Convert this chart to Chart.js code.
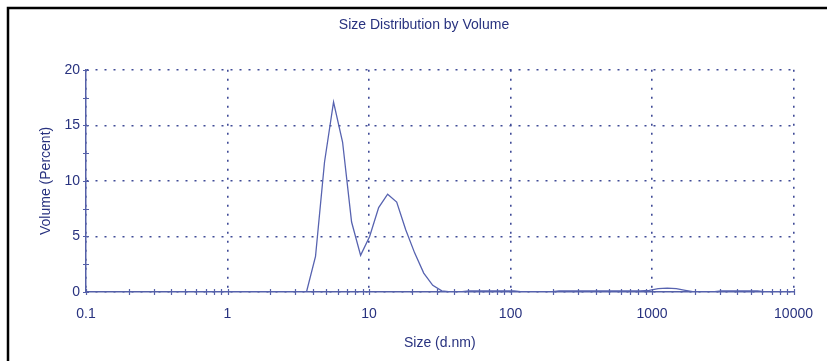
<!DOCTYPE html>
<html>
<head>
<meta charset="utf-8">
<script src="https://cdn.jsdelivr.net/npm/chart.js@4.4.1/dist/chart.umd.min.js"></script>
<style>
body { margin: 0; background: #fff; }
</style>
</head>
<body>
<canvas id="dist" width="827" height="361"></canvas>
<script>
// size classes (d.nm) and the volume in each (%)
var sizes = [0.4, 0.4632, 0.5365, 0.6213, 0.7195, 0.8332, 0.9649, 1.117, 1.294, 1.499,
	1.736, 2.01, 2.328, 2.696, 3.122, 3.615, 4.187, 4.849, 5.615, 6.503,
	7.531, 8.721, 10.1, 11.7, 13.54, 15.69, 18.17, 21.04, 24.36, 28.21,
	32.67, 37.84, 43.82, 50.75, 58.77, 68.06, 78.82, 91.28, 105.7, 122.4,
	141.8, 164.2, 190.1, 220.2, 255, 295.3, 342, 396.1, 458.7, 531.2,
	615.1, 712.4, 825, 955.4, 1106, 1281, 1484, 1718, 1990, 2305,
	2669, 3091, 3580, 4145, 4801, 5560, 6439, 7456, 8635, 10000];
var volumes = [0, 0, 0, 0, 0, 0, 0, 0, 0, 0,
	0, 0, 0, 0, 0, 0, 3.2, 11.7, 17.1, 13.5,
	6.3, 3.3, 5.0, 7.6, 8.8, 8.1, 5.6, 3.5, 1.7, 0.6,
	0.1, 0, 0, 0.1, 0.1, 0.1, 0.1, 0.1, 0.1, 0,
	0, 0, 0, 0.1, 0.1, 0.1, 0.1, 0.1, 0.1, 0.1,
	0.1, 0.1, 0.1, 0.15, 0.3, 0.35, 0.3, 0.15, 0, 0,
	0, 0.1, 0.1, 0.1, 0.1, 0.1, 0, 0, 0, 0];
var xTicks = [0.1, 1, 10, 100, 1000, 10000];
var yTicks = [0, 5, 10, 15, 20];

var navy = '#28327f';
var axisColor = '#5560a8';
var lineColor = '#5763b0';
var gridColor = '#3f4a96';

Chart.defaults.font.family = "'Liberation Sans', Arial, sans-serif";

// minor ticks 2..9 in each decade
var xAll = [];
for (var i = 0; i < xTicks.length - 1; i++) {
	for (var m = 1; m < 10; m++) {
		xAll.push(parseFloat((m * xTicks[i]).toPrecision(6)));
	}
}
xAll.push(xTicks[xTicks.length - 1]);
var yAll = [];
for (var v = 0; v <= 20; v += 2.5) yAll.push(v);

var points = sizes.map(function(s, i) { return {x: s, y: volumes[i]}; });

var framePlugin = {
	id: 'frame',
	beforeDraw: function(chart) {
		var ctx = chart.ctx;
		ctx.save();
		ctx.strokeStyle = '#000';
		ctx.lineWidth = 2.5;
		ctx.beginPath();
		ctx.moveTo(8, 361);
		ctx.lineTo(8, 8);
		ctx.lineTo(827, 8);
		ctx.stroke();
		ctx.restore();
	}
};

// small tick marks crossing both axes
var tickPlugin = {
	id: 'crossTicks',
	afterDraw: function(chart) {
		var ctx = chart.ctx;
		var xs = chart.scales.x, ys = chart.scales.y;
		var x0 = xs.getPixelForValue(0.1), y0 = ys.getPixelForValue(0);
		ctx.save();
		ctx.strokeStyle = axisColor;
		ctx.lineWidth = 1.2;
		ctx.beginPath();
		xAll.forEach(function(v) {
			var px = Math.round(xs.getPixelForValue(v)) + 0.5;
			ctx.moveTo(px, y0 - 3);
			ctx.lineTo(px, y0 + 3);
		});
		yAll.forEach(function(v) {
			var py = Math.round(ys.getPixelForValue(v)) + 0.5;
			ctx.moveTo(x0 - 3, py);
			ctx.lineTo(x0 + 3, py);
		});
		ctx.stroke();
		ctx.restore();
	}
};

new Chart(document.getElementById('dist'), {
	type: 'line',
	data: {
		datasets: [{
			data: points,
			borderColor: lineColor,
			borderWidth: 1.3,
			pointRadius: 0,
			tension: 0,
			fill: false
		}]
	},
	options: {
		responsive: false,
		animation: false,
		layout: { padding: { left: 50, right: 29, top: 0, bottom: 0 } },
		plugins: {
			legend: { display: false },
			tooltip: { enabled: false },
			title: {
				display: true,
				text: 'Size Distribution by Volume',
				color: navy,
				font: { size: 14, weight: 'normal' },
				padding: { top: 17, bottom: 36 }
			}
		},
		scales: {
			x: {
				type: 'logarithmic',
				min: 0.1,
				max: 10000,
				afterBuildTicks: function(scale) {
					scale.ticks = xAll.map(function(v) { return {value: v}; });
				},
				afterFit: function(scale) { scale.height = 69; },
				ticks: {
					autoSkip: false,
					maxRotation: 0,
					color: navy,
					font: { size: 14 },
					padding: 14,
					callback: function(value) {
						return xTicks.indexOf(value) >= 0 ? String(value) : '';
					}
				},
				grid: {
					drawTicks: false,
					lineWidth: 1.6,
					color: function(ctx) {
						return ctx.tick && xTicks.indexOf(ctx.tick.value) >= 0 ? gridColor : 'rgba(0,0,0,0)';
					}
				},
				border: { color: axisColor, width: 1.5, dash: [2, 7] },
				title: {
					display: true,
					text: 'Size (d.nm)',
					color: navy,
					font: { size: 14 },
					padding: { top: 0, bottom: 9 }
				}
			},
			y: {
				min: 0,
				max: 20,
				afterBuildTicks: function(scale) {
					scale.ticks = yAll.map(function(v) { return {value: v}; });
				},
				afterFit: function(scale) { scale.width = 36; },
				ticks: {
					color: navy,
					font: { size: 14 },
					padding: 6,
					callback: function(value) {
						return yTicks.indexOf(value) >= 0 ? String(value) : '';
					}
				},
				grid: {
					drawTicks: false,
					lineWidth: 1.6,
					color: function(ctx) {
						return ctx.tick && yTicks.indexOf(ctx.tick.value) >= 0 ? gridColor : 'rgba(0,0,0,0)';
					}
				},
				border: { color: axisColor, width: 1.5, dash: [2, 7] },
				title: {
					display: true,
					text: 'Volume (Percent)',
					color: navy,
					font: { size: 14 },
					padding: { top: -12, bottom: 0 }
				}
			}
		}
	},
	plugins: [framePlugin, tickPlugin]
});
</script>
</body>
</html>
